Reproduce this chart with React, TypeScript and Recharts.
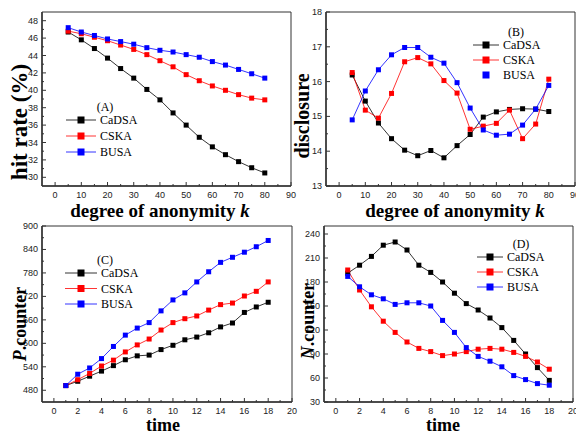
import React from 'react';
import { LineChart, Line, XAxis, YAxis, ReferenceArea, Legend } from 'recharts';

// degree of anonymity k (panels A, B)
const kValues = [5, 10, 15, 20, 25, 30, 35, 40, 45, 50, 55, 60, 65, 70, 75, 80];
// time (panels C, D)
const timeValues = [1, 2, 3, 4, 5, 6, 7, 8, 9, 10, 11, 12, 13, 14, 15, 16, 17, 18];

const seriesNames = ['CaDSA', 'CSKA', 'BUSA'];
const seriesColors = ['#000000', '#ff0000', '#0000ff'];

// (A) hit rate (%)
const hitCaDSA = [46.7, 45.8, 44.8, 43.7, 42.5, 41.4, 40.1, 38.9, 37.4, 36.0, 34.6, 33.5, 32.6, 31.8, 31.1, 30.5];
const hitCSKA = [46.8, 46.5, 46.1, 45.7, 45.2, 44.7, 44.1, 43.4, 42.7, 41.8, 41.1, 40.5, 40.0, 39.5, 39.1, 38.9];
const hitBUSA = [47.2, 46.7, 46.3, 45.9, 45.6, 45.3, 44.9, 44.6, 44.4, 44.1, 43.8, 43.3, 42.9, 42.4, 41.9, 41.4];

// (B) disclosure
const discCaDSA = [16.19, 15.44, 14.81, 14.36, 14.03, 13.87, 14.02, 13.81, 14.16, 14.48, 14.98, 15.13, 15.2, 15.22, 15.21, 15.14];
const discCSKA = [16.26, 15.18, 14.95, 15.66, 16.57, 16.69, 16.51, 16.03, 15.67, 14.63, 14.72, 14.8, 15.18, 14.36, 14.78, 16.07];
const discBUSA = [14.9, 15.73, 16.34, 16.77, 16.98, 16.98, 16.7, 16.53, 15.97, 15.24, 14.61, 14.46, 14.49, 14.75, 15.21, 15.89];

// (C) P.counter
const pCaDSA = [492, 503, 516, 529, 543, 558, 568, 570, 584, 595, 609, 616, 627, 642, 652, 679, 693, 705];
const pCSKA = [492, 507, 523, 542, 557, 578, 596, 611, 634, 653, 663, 670, 685, 699, 703, 721, 733, 757];
const pBUSA = [492, 521, 537, 561, 592, 621, 639, 653, 683, 711, 729, 757, 783, 807, 820, 833, 847, 863];

// (D) N.counter
const nCaDSA = [191, 201, 212, 226, 230, 220, 201, 192, 180, 166, 153, 145, 135, 123, 107, 90, 73, 57];
const nCSKA = [195, 170, 149, 131, 117, 105, 97, 93, 88, 90, 93, 96, 97, 96, 92, 87, 80, 71];
const nBUSA = [187, 174, 164, 159, 152, 154, 154, 150, 132, 117, 98, 87, 81, 74, 63, 58, 53, 51];

// axis ticks (major labelled, minor unlabelled)
const kTicks = [0, 5, 10, 15, 20, 25, 30, 35, 40, 45, 50, 55, 60, 65, 70, 75, 80, 85, 90];
const timeTicks = [0, 1, 2, 3, 4, 5, 6, 7, 8, 9, 10, 11, 12, 13, 14, 15, 16, 17, 18, 19, 20];
const hitTicks = [30, 31, 32, 33, 34, 35, 36, 37, 38, 39, 40, 41, 42, 43, 44, 45, 46, 47, 48];
const discTicks = [13, 13.5, 14, 14.5, 15, 15.5, 16, 16.5, 17, 17.5, 18];
const pTicks = [480, 510, 540, 570, 600, 630, 660, 690, 720, 750, 780, 810, 840, 870, 900];
const nTicks = [30, 45, 60, 75, 90, 105, 120, 135, 150, 165, 180, 195, 210, 225, 240];

const rows = (xs: number[], a: number[], b: number[], c: number[]) =>
  xs.map((x, i) => ({ x, CaDSA: a[i], CSKA: b[i], BUSA: c[i] }));

const isMajor = (v: number, step: number) => Math.abs(v / step - Math.round(v / step)) < 1e-6;

const tickFont = { fontFamily: '"Liberation Sans", Arial, sans-serif', fontSize: 9, fill: '#222' };

const makeXTick = (step: number) => (props: any) => {
  const { x, y, payload } = props;
  const major = isMajor(payload.value, step);
  return (
    <g>
      <line x1={x} x2={x} y1={y} y2={y - (major ? 4 : 2)} stroke="#333" strokeWidth={1} />
      {major && (
        <text x={x} y={y + 11.5} textAnchor="middle" {...tickFont}>{payload.value}</text>
      )}
    </g>
  );
};

const makeYTick = (step: number) => (props: any) => {
  const { x, y, payload } = props;
  const major = isMajor(payload.value, step);
  return (
    <g>
      <line x1={x} x2={x + (major ? 4 : 2)} y1={y} y2={y} stroke="#333" strokeWidth={1} />
      {major && (
        <text x={x - 4} y={y + 3} textAnchor="end" {...tickFont}>{payload.value}</text>
      )}
    </g>
  );
};

const SquareDot = (props: any) => {
  const { cx, cy, stroke } = props;
  if (cx == null || cy == null) return null;
  return <rect x={cx - 2.5} y={cy - 2.5} width={5} height={5} fill={stroke} />;
};

const makeLegend = (title: string, titleX: number, lineLen: number, rowGap: number, noLine: string[]) => () => (
  <svg width={110} height={66} style={{ display: 'block' }}>
    <text x={titleX} y={13} textAnchor="middle" fontFamily='"Liberation Serif", serif' fontSize={12}>{title}</text>
    {seriesNames.map((name, i) => {
      const cy = 22 + i * rowGap;
      return (
        <g key={name}>
          {!noLine.includes(name) && (
            <line x1={4} x2={4 + lineLen} y1={cy} y2={cy} stroke={seriesColors[i]} strokeWidth={0.8} />
          )}
          <rect x={4 + lineLen / 2 - 3.5} y={cy - 3.5} width={7} height={7} fill={seriesColors[i]} />
          <text x={8 + lineLen} y={cy + 4} fontFamily='"Liberation Serif", serif' fontSize={12}>{name}</text>
        </g>
      );
    })}
  </svg>
);

type PanelProps = {
  left: number; top: number; width: number; height: number;
  yWidth: number; mTop: number; mRight: number; xHeight: number;
  data: any[]; xDomain: [number, number]; yDomain: [number, number];
  xTicks: number[]; yTicks: number[]; xStep: number; yStep: number;
  legend: () => React.ReactElement; legendLeft: number; legendTop: number;
};

const Panel = (p: PanelProps) => (
  <div style={{ position: 'absolute', left: p.left, top: p.top }}>
    <LineChart width={p.width} height={p.height} data={p.data}
      margin={{ top: p.mTop, right: p.mRight, left: 0, bottom: 0 }}>
      <XAxis dataKey="x" type="number" domain={p.xDomain} ticks={p.xTicks} interval={0}
        height={p.xHeight} tickSize={0} tickMargin={0} tickLine={false}
        tick={makeXTick(p.xStep)} axisLine={{ stroke: '#333', strokeWidth: 1.5 }} allowDataOverflow />
      <YAxis type="number" domain={p.yDomain} ticks={p.yTicks} interval={0}
        width={p.yWidth} tickSize={0} tickMargin={0} tickLine={false}
        tick={makeYTick(p.yStep)} axisLine={{ stroke: '#333', strokeWidth: 1.5 }} allowDataOverflow />
      <ReferenceArea x1={p.xDomain[0]} x2={p.xDomain[1]} y1={p.yDomain[0]} y2={p.yDomain[1]}
        fill="none" stroke="#333" strokeWidth={1} />
      {seriesNames.map((name, i) => (
        <Line key={name} dataKey={name} name={name} type="linear" stroke={seriesColors[i]}
          strokeWidth={0.8} dot={<SquareDot />} isAnimationActive={false} />
      ))}
      <Legend layout="horizontal" verticalAlign="middle" align="center" content={p.legend}
        wrapperStyle={{ left: p.legendLeft, top: p.legendTop, width: 110, height: 66 }} />
    </LineChart>
  </div>
);

const axisText: React.CSSProperties = {
  position: 'absolute',
  fontFamily: '"Liberation Serif", "Times New Roman", serif',
  fontWeight: 'bold',
  whiteSpace: 'nowrap',
  color: '#000',
  lineHeight: 1,
};

const XLabel = ({ cx, cy, size, children }: any) => (
  <div style={{ ...axisText, left: cx, top: cy, fontSize: size, transform: 'translate(-50%, -50%)' }}>{children}</div>
);

const YLabel = ({ cx, cy, size, children }: any) => (
  <div style={{ ...axisText, left: cx, top: cy, fontSize: size, transform: 'translate(-50%, -50%) rotate(-90deg)' }}>{children}</div>
);

export default function App() {
  return (
    <div style={{ position: 'absolute', left: 0, top: 0, width: 576, height: 434, background: '#fff', overflow: 'hidden' }}>
      <Panel left={0} top={0} width={300} height={200} yWidth={42} mTop={12} mRight={9} xHeight={14}
        data={rows(kValues, hitCaDSA, hitCSKA, hitBUSA)} xDomain={[-5, 90]} yDomain={[29, 49]}
        xTicks={kTicks} yTicks={hitTicks} xStep={10} yStep={2}
        legend={makeLegend('(A)', 43, 30, 16, [])} legendLeft={62} legendTop={98} />
      <Panel left={290} top={0} width={286} height={200} yWidth={36} mTop={12} mRight={1} xHeight={14}
        data={rows(kValues, discCaDSA, discCSKA, discBUSA)} xDomain={[-5, 90]} yDomain={[13, 18]}
        xTicks={kTicks} yTicks={discTicks} xStep={10} yStep={1}
        legend={makeLegend('(B)', 47, 26, 15, ['BUSA'])} legendLeft={179} legendTop={23} />
      <Panel left={0} top={214} width={300} height={202} yWidth={42} mTop={12} mRight={8} xHeight={14}
        data={rows(timeValues, pCaDSA, pCSKA, pBUSA)} xDomain={[-1, 20]} yDomain={[450, 900]}
        xTicks={timeTicks} yTicks={pTicks} xStep={2} yStep={60}
        legend={makeLegend('(C)', 44, 32, 15.5, [])} legendLeft={61} legendTop={37} />
      <Panel left={290} top={214} width={286} height={202} yWidth={34} mTop={12} mRight={3} xHeight={14}
        data={rows(timeValues, nCaDSA, nCSKA, nBUSA)} xDomain={[-1, 20]} yDomain={[30, 250]}
        xTicks={timeTicks} yTicks={nTicks} xStep={2} yStep={30}
        legend={makeLegend('(D)', 48, 26, 15, [])} legendLeft={183} legendTop={21} />

      <YLabel cx={19} cy={122} size={23}>hit rate (%)</YLabel>
      <XLabel cx={160} cy={210} size={19}>degree of anonymity <i>k</i></XLabel>
      <YLabel cx={302} cy={116} size={20}>disclosure</YLabel>
      <XLabel cx={455} cy={210} size={19}>degree of anonymity <i>k</i></XLabel>
      <YLabel cx={20} cy={324} size={18}><i>P</i>.counter</YLabel>
      <XLabel cx={163} cy={425} size={18}>time</XLabel>
      <YLabel cx={308} cy={321} size={18}><i>N</i>.counter</YLabel>
      <XLabel cx={443} cy={425} size={18}>time</XLabel>
    </div>
  );
}
